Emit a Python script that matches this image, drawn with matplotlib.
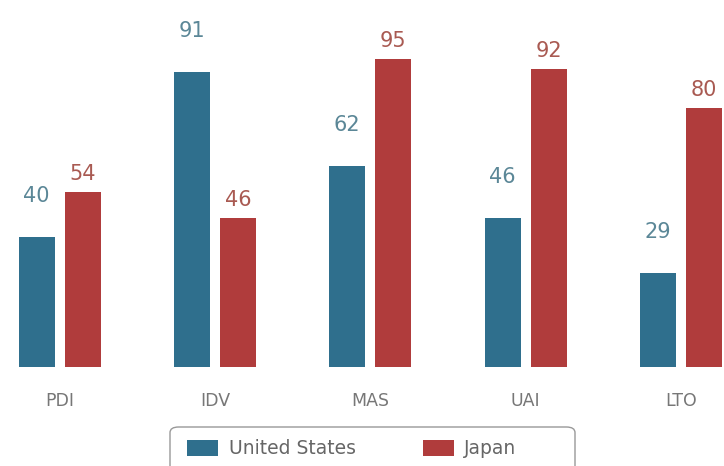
import matplotlib

matplotlib.use("Agg")

import matplotlib.pyplot as plt
import numpy as np
from matplotlib.patches import FancyBboxPatch

categories = ["PDI", "IDV", "MAS", "UAI", "LTO"]
us_values = [40, 91, 62, 46, 29]
japan_values = [54, 46, 95, 92, 80]

US_COLOR = "#2f6f8d"
JAPAN_COLOR = "#b03c3c"
US_LABEL_COLOR = "#5b8797"
JAPAN_LABEL_COLOR = "#a95a52"

W, H, DPI = 724, 466, 100
BASE_PX = 367        # baseline, pixels from top
PX_PER_UNIT = 3.24
GROUP_PX = 155.4     # distance between group centres
FIRST_PX = 59.5

fig = plt.figure(figsize=(W / DPI, H / DPI), dpi=DPI)
ax = fig.add_axes([0, (H - BASE_PX) / H, 1, BASE_PX / H])

x = np.arange(len(categories))
width = 36 / GROUP_PX
offset = 23 / GROUP_PX

bars_us = ax.bar(x - offset, us_values, width, color=US_COLOR, label="United States")
bars_jp = ax.bar(x + offset, japan_values, width, color=JAPAN_COLOR, label="Japan")

for bar, v in zip(bars_us, us_values):
    ax.annotate(str(v), (bar.get_x() + bar.get_width() / 2, bar.get_height()),
                xytext=(0, 29.5), textcoords="offset points", ha="center", va="center",
                fontsize=15, color=US_LABEL_COLOR)
for bar, v in zip(bars_jp, japan_values):
    ax.annotate(str(v), (bar.get_x() + bar.get_width() / 2, bar.get_height()),
                xytext=(0, 13), textcoords="offset points", ha="center", va="center",
                fontsize=15, color=JAPAN_LABEL_COLOR)

ax.set_xlim(-FIRST_PX / GROUP_PX, (W - FIRST_PX) / GROUP_PX)
ax.set_ylim(0, BASE_PX / PX_PER_UNIT)
ax.set_xticks(x)
ax.set_xticklabels(categories, fontsize=12.5, color="#777777")
ax.tick_params(axis="x", length=0, pad=18)
ax.set_yticks([])
for s in ax.spines.values():
    s.set_visible(False)

# legend entries without their own frame, frame drawn separately (clipped at bottom)
leg = fig.legend(loc="center left", bbox_to_anchor=(178 / W, 1 - 449 / H), ncol=2,
                 fontsize=13.5, frameon=False, handlelength=1.65, handleheight=0.95,
                 columnspacing=3.6, borderpad=0, handletextpad=0.55)
for t in leg.get_texts():
    t.set_color("#666666")

frame = FancyBboxPatch((170 / W, -20 / H), 405 / W, (466 - 427 + 20) / H,
                       boxstyle="round,pad=0,rounding_size=0.012",
                       transform=fig.transFigure, facecolor="none",
                       edgecolor="#999999", linewidth=1.0)
fig.add_artist(frame)

fig.savefig("out.png", dpi=DPI)
